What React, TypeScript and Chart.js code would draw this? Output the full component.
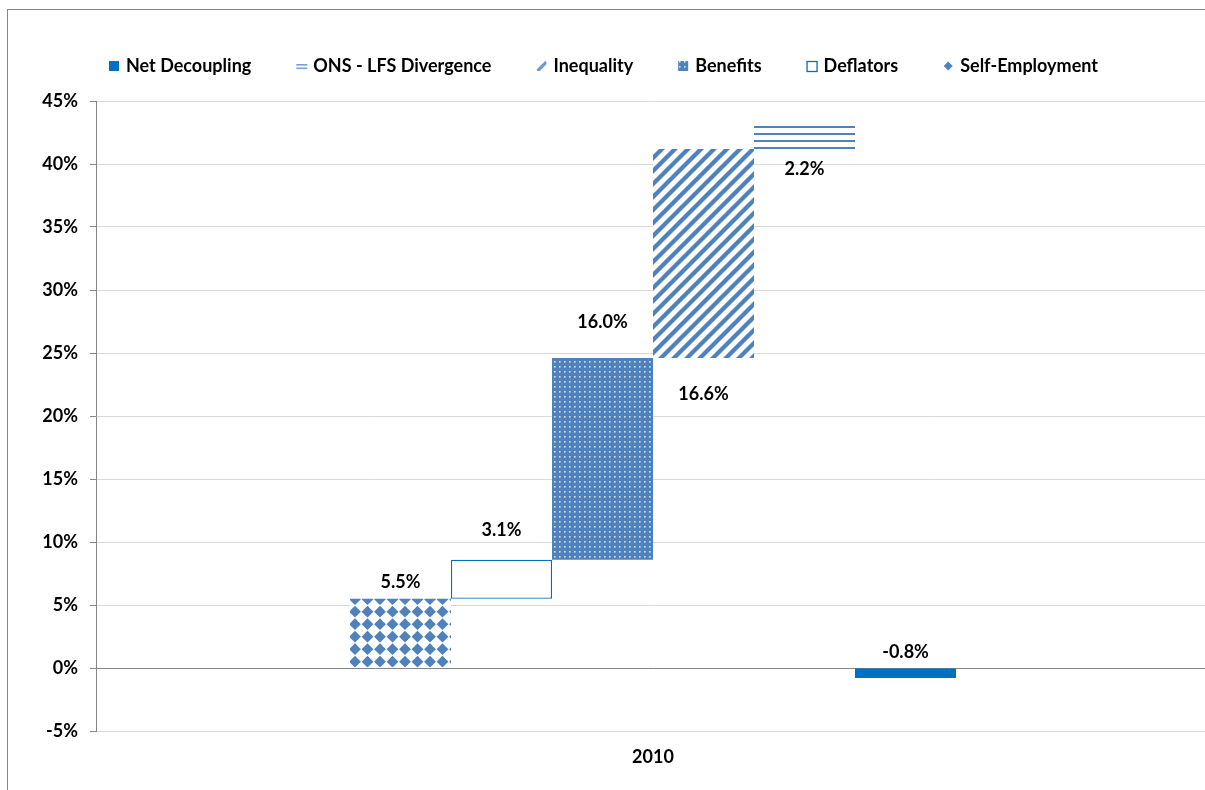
import React, { useEffect, useRef } from 'react';
import { Chart, registerables } from 'chart.js';

Chart.register(...registerables);

// ---------- data ----------
const categories = ['2010'];
const stepNames = ['Self-Employment', 'Deflators', 'Benefits', 'Inequality', 'ONS - LFS Divergence'];
const stepValues = [5.5, 3.1, 16.0, 16.6, 2.2];
const netName = 'Net Decoupling';
const netValue = -0.8;
const yMin = -5;
const yMax = 45;
const yStep = 5;
const legendOrder = ['Net Decoupling', 'ONS - LFS Divergence', 'Inequality', 'Benefits', 'Deflators', 'Self-Employment'];

// ---------- label placement (style) ----------
const labelSide = ['above', 'above', 'above', 'below', 'below', 'above'];
const labelGap = [17.5, 30, 37, 35, 20, 17];

const FONT_FAMILY = 'Lato';
const FONT_SIZE = 18;
const BLUE = '#4f81bd';
const DARK_BLUE = '#0070c0';
const AXIS_GRAY = '#868686';
const GRID_GRAY = '#d9d9d9';

function makeTile(w: number, h: number, draw: (g: CanvasRenderingContext2D) => void) {
  const c = document.createElement('canvas');
  c.width = w;
  c.height = h;
  const g = c.getContext('2d')!;
  draw(g);
  return g.createPattern(c, 'repeat')!;
}

function diamondPattern() {
  return makeTile(25, 25, (g) => {
    g.fillStyle = '#ffffff';
    g.fillRect(0, 0, 25, 25);
    g.fillStyle = BLUE;
    const cx = [9.5, 22];
    const cy = [1.7, 14.2];
    const r = 5.9;
    for (const x0 of cx) for (const y0 of cy) for (const dx of [-25, 0, 25]) for (const dy of [-25, 0, 25]) {
      const x = x0 + dx;
      const y = y0 + dy;
      g.beginPath();
      g.moveTo(x, y - r);
      g.lineTo(x + r, y);
      g.lineTo(x, y + r);
      g.lineTo(x - r, y);
      g.closePath();
      g.fill();
    }
  });
}

function dotPattern() {
  return makeTile(5, 5, (g) => {
    g.fillStyle = BLUE;
    g.fillRect(0, 0, 5, 5);
    g.fillStyle = 'rgba(235,241,250,0.85)';
    g.fillRect(1, 1, 1.6, 1.6);
  });
}

function stripePattern() {
  return makeTile(13, 13, (g) => {
    g.fillStyle = '#ffffff';
    g.fillRect(0, 0, 13, 13);
    g.strokeStyle = BLUE;
    g.lineWidth = 4.3;
    for (const k of [-13, 0, 13]) {
      g.beginPath();
      g.moveTo(k - 2, 15);
      g.lineTo(k + 15, -2);
      g.stroke();
    }
  });
}

function hlinePattern() {
  return makeTile(4, 7, (g) => {
    g.fillStyle = '#ffffff';
    g.fillRect(0, 0, 4, 7);
    g.fillStyle = BLUE;
    g.fillRect(0, 4, 4, 2);
  });
}

function fontStr() {
  return `bold ${FONT_SIZE}px ${FONT_FAMILY}`;
}

function drawLegendIcon(ctx: CanvasRenderingContext2D, name: string, x: number, y: number, pats: any) {
  // x,y = top-left of a 10x10 box
  ctx.save();
  if (name === 'Net Decoupling') {
    ctx.fillStyle = DARK_BLUE;
    ctx.fillRect(x, y, 10, 10);
  } else if (name === 'ONS - LFS Divergence') {
    ctx.fillStyle = '#7aa0d2';
    ctx.fillRect(x, y + 3, 11, 1.6);
    ctx.fillRect(x, y + 6.5, 11, 1.6);
  } else if (name === 'Inequality') {
    ctx.beginPath();
    ctx.rect(x, y, 10, 10);
    ctx.clip();
    ctx.strokeStyle = '#6f98cf';
    ctx.lineWidth = 3.2;
    ctx.beginPath();
    ctx.moveTo(x + 1, y + 10);
    ctx.lineTo(x + 10, y + 1);
    ctx.stroke();
  } else if (name === 'Benefits') {
    ctx.fillStyle = pats.dots;
    ctx.fillRect(x, y, 10, 10);
  } else if (name === 'Deflators') {
    ctx.fillStyle = '#ffffff';
    ctx.fillRect(x, y, 10, 10);
    ctx.strokeStyle = DARK_BLUE;
    ctx.lineWidth = 1.3;
    ctx.strokeRect(x + 0.5, y + 0.5, 10, 10);
  } else if (name === 'Self-Employment') {
    ctx.fillStyle = BLUE;
    ctx.beginPath();
    ctx.moveTo(x + 5, y + 0.5);
    ctx.lineTo(x + 9.5, y + 5);
    ctx.lineTo(x + 5, y + 9.5);
    ctx.lineTo(x + 0.5, y + 5);
    ctx.closePath();
    ctx.fill();
  }
  ctx.restore();
}

export default function App() {
  const ref = useRef<HTMLCanvasElement | null>(null);

  useEffect(() => {
    const canvas = ref.current;
    if (!canvas) return;

    const pats = {
      diamonds: diamondPattern(),
      dots: dotPattern(),
      stripes: stripePattern(),
      hlines: hlinePattern(),
    };

    // cumulative floating ranges
    const ranges: [number, number][] = [];
    let cum = 0;
    for (const v of stepValues) {
      ranges.push([cum, cum + v]);
      cum += v;
    }
    ranges.push([0, netValue]);
    const names = [...stepNames, netName];
    const values = [...stepValues, netValue];

    const styleFor = (name: string) => {
      switch (name) {
        case 'Self-Employment':
          return { backgroundColor: pats.diamonds, borderWidth: 0 };
        case 'Deflators':
          return { backgroundColor: '#ffffff', borderColor: DARK_BLUE, borderWidth: 1.3, borderSkipped: false };
        case 'Benefits':
          return { backgroundColor: pats.dots, borderWidth: 0 };
        case 'Inequality':
          return { backgroundColor: pats.stripes, borderWidth: 0 };
        case 'ONS - LFS Divergence':
          return { backgroundColor: pats.hlines, borderWidth: 0 };
        default:
          return { backgroundColor: DARK_BLUE, borderWidth: 0 };
      }
    };

    const datasets = names.map((name, i) => ({
      label: name,
      data: [ranges[i]] as any,
      categoryPercentage: 0.544,
      barPercentage: 1,
      ...styleFor(name),
    }));

    const labelPlugin = {
      id: 'valueLabels',
      afterDatasetsDraw(chart: any) {
        const ctx = chart.ctx as CanvasRenderingContext2D;
        ctx.save();
        ctx.font = fontStr();
        ctx.fillStyle = '#000000';
        ctx.textAlign = 'center';
        ctx.textBaseline = 'alphabetic';
        const capHalf = FONT_SIZE * 0.36;
        values.forEach((v, i) => {
          const el = chart.getDatasetMeta(i).data[0];
          if (!el) return;
          const top = Math.min(el.y, el.base);
          const bottom = Math.max(el.y, el.base);
          const cy = labelSide[i] === 'above' ? top - labelGap[i] : bottom + labelGap[i];
          ctx.fillText(`${v.toFixed(1)}%`, el.x, cy + capHalf);
        });
        ctx.restore();
      },
    };

    const legendPlugin = {
      id: 'customLegend',
      afterDraw(chart: any) {
        const ctx = chart.ctx as CanvasRenderingContext2D;
        ctx.save();
        ctx.font = fontStr();
        const box = 10;
        const boxGap = 7;
        const itemGap = 45;
        const widths = legendOrder.map((n) => box + boxGap + ctx.measureText(n).width);
        const total = widths.reduce((a, b) => a + b, 0) + itemGap * (widths.length - 1);
        let x = 595.5 - total / 2;
        const capCenter = 55.5;
        const baseline = capCenter + FONT_SIZE * 0.36;
        legendOrder.forEach((n, i) => {
          drawLegendIcon(ctx, n, x, capCenter - 4.5, pats);
          ctx.fillStyle = '#000000';
          ctx.textAlign = 'left';
          ctx.textBaseline = 'alphabetic';
          ctx.fillText(n, x + box + boxGap, baseline);
          x += widths[i] + itemGap;
        });
        ctx.restore();
      },
    };

    const font = { family: FONT_FAMILY, size: FONT_SIZE, weight: 'bold' as const };

    const chart = new Chart(canvas, {
      type: 'bar',
      data: { labels: categories, datasets },
      options: {
        responsive: false,
        animation: false,
        layout: { padding: { top: 91, right: 2, left: 0, bottom: 0 } },
        plugins: {
          legend: { display: false },
          tooltip: { enabled: false },
        },
        scales: {
          x: {
            grid: { display: false },
            border: { display: false },
            ticks: { font, color: '#000000', padding: 7 },
            afterFit: (s: any) => {
              s.height = 69;
            },
          },
          y: {
            min: yMin,
            max: yMax,
            ticks: {
              stepSize: yStep,
              font,
              color: '#000000',
              padding: 12,
              callback: (v: any) => `${v}%`,
            },
            grid: {
              color: (c: any) => (c.tick && c.tick.value === 0 ? AXIS_GRAY : GRID_GRAY),
              tickColor: AXIS_GRAY,
              tickLength: 6,
              lineWidth: 1,
            },
            border: { display: true, color: AXIS_GRAY, width: 1 },
            afterFit: (s: any) => {
              s.width = 88;
            },
          },
        },
      } as any,
      plugins: [labelPlugin, legendPlugin],
    });

    return () => chart.destroy();
  }, []);

  return (
    <div
      style={{
        position: 'fixed',
        left: 0,
        top: 0,
        width: 1205,
        height: 790,
        overflow: 'hidden',
        background: '#ffffff',
      }}
    >
      <div
        style={{
          position: 'absolute',
          left: 7,
          top: 9,
          width: 1220,
          height: 800,
          borderLeft: `1px solid ${AXIS_GRAY}`,
          borderTop: `1px solid ${AXIS_GRAY}`,
          boxSizing: 'border-box',
        }}
      >
        <canvas ref={ref} width={1204} height={790} style={{ display: 'block', width: 1204, height: 790 }} />
      </div>
    </div>
  );
}
